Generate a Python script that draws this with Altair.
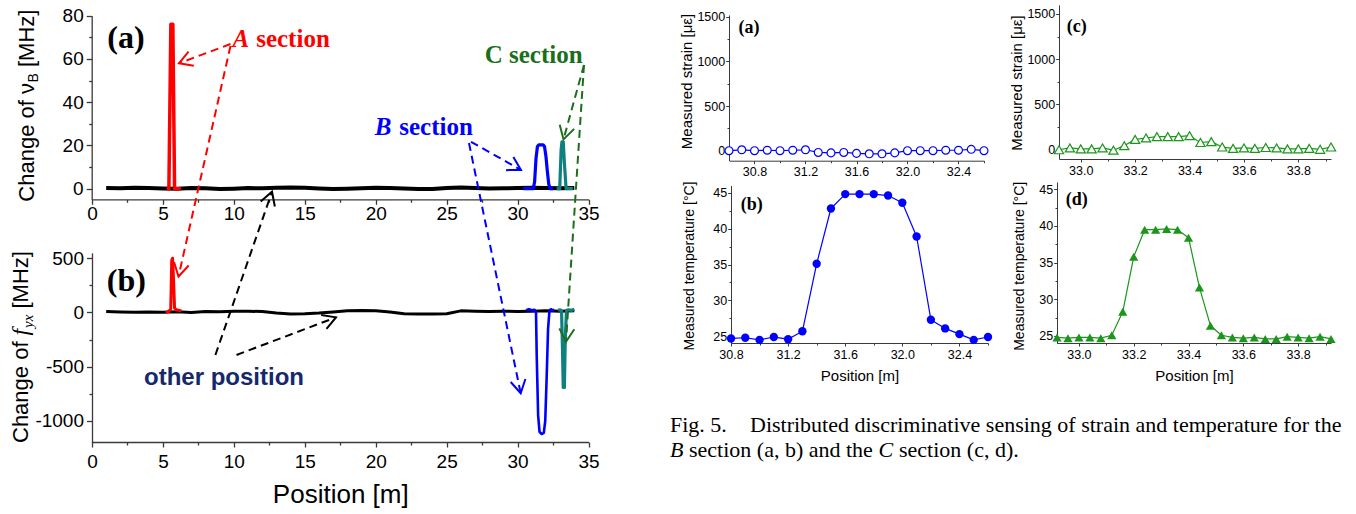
import math
import altair as alt
import pandas as pd

W, H = 1356, 514
SANS = "Liberation Sans"
SERIF = "Liberation Serif"
RED, BLUE, TEAL = "#ff0000", "#0000ff", "#0f8080"
GREEN_T, GREEN = "#1b6f1b", "#1a961a"
NAVY, BLACK, AXC = "#16286b", "#000000", "#3a3a3a"

# ---------------- left figure (a): change of nu_B [MHz] ----------------
pos_other = [1, 2, 3, 4, 5, 6, 7, 8, 9, 10, 11, 12, 13, 14, 15, 16, 17, 18, 19, 20,
             21, 22, 23, 24, 25, 26, 27, 28, 29, 30, 31, 32, 33, 34]
nuB_other = [0.3, 0.2, 0.4, 0.3, 0.1, 0.0, 0.3, 0.2, -0.2, 0.0, 0.3, 0.2, 0.4, 0.6, 0.4, 0.1, -0.1,
             0.0, 0.2, 0.4, 0.3, 0.1, -0.2, -0.1, 0.3, 0.5, 0.3, 0.1, 0.2, 0.3, 0.4, 0.3, 0.2, 0.3]
pos_A_a = [5.27, 5.42, 5.56, 5.70, 5.82, 6.26]
nuB_A = [0, 0, 76, 76, 0, 0]
pos_B_a = [30.4, 31.1, 31.2, 31.3, 31.4, 31.5, 31.8, 31.9, 32.0, 32.1, 32.2, 32.3, 32.5]
nuB_B = [0, 0, 3, 14, 19.5, 20.3, 20.3, 19.5, 15, 8, 2, 0, 0]
pos_C_a = [32.75, 32.97, 33.07, 33.13, 33.22, 33.30, 33.42, 33.9]
nuB_C = [0, 0, 18, 21.7, 21.7, 12, 0, 0]

# ---------------- left figure (b): change of f_yx [MHz] ----------------
fyx_other = [8, 5, 3, 5, 2, 6, 0, 10, 6, 12, 12, 8, -5, -15, -12, -5, 5, 15, 18, 15, 5, -12,
             -15, -15, -12, 15, 12, 10, 12, 10, 12, 15, 12, 15]
pos_A_b = [5.2, 5.4, 5.55, 5.62, 5.68, 5.75, 5.82, 5.95, 6.1, 6.3]
fyx_A = [0, 10, 30, 480, 500, 300, 40, 25, 20, 15]
pos_B_b = [30.6, 30.8, 31.0, 31.2, 31.3, 31.35, 31.45, 31.55, 31.7, 31.85, 31.95, 32.05, 32.15,
           32.25, 32.35, 32.5, 32.6]
fyx_B = [20, 30, 20, 25, 0, -400, -950, -1100, -1120, -1110, -1000, -600, -150, 20, 30, 20, 25]
pos_C_b = [32.85, 33.0, 33.1, 33.16, 33.22, 33.3, 33.36, 33.45, 33.6, 33.8, 34.0]
fyx_C = [20, 25, 15, -300, -690, -690, -250, 20, 25, 20, 30]

# ---------------- right figure ----------------
pos_Bs = [30.6, 30.7, 30.8, 30.9, 31.0, 31.1, 31.2, 31.3, 31.4, 31.5, 31.6, 31.7, 31.8, 31.9,
          32.0, 32.1, 32.2, 32.3, 32.4, 32.5, 32.6]
strain_B = [0, 10, 0, 5, 0, 5, 10, -20, -25, -20, -30, -35, -35, -25, 0, 0, 0, 5, 5, 15, 0]
pos_Bt = [30.8, 30.9, 31.0, 31.1, 31.2, 31.3, 31.4, 31.5, 31.6, 31.7, 31.8, 31.9, 32.0, 32.1,
          32.2, 32.3, 32.4, 32.5, 32.6]
temp_B = [24.7, 24.8, 24.5, 24.9, 24.6, 25.7, 35.1, 42.8, 44.8, 44.8, 44.8, 44.6, 43.6, 38.9,
          27.3, 26.1, 25.3, 24.5, 24.9]
pos_C = [32.92, 32.96, 33.0, 33.04, 33.08, 33.12, 33.16, 33.2, 33.24, 33.28, 33.32, 33.36, 33.4,
         33.44, 33.48, 33.52, 33.56, 33.6, 33.64, 33.68, 33.72, 33.76, 33.8, 33.84, 33.88, 33.92]
strain_C = [0, 20, 10, 10, 20, -5, 45, 115, 130, 145, 145, 145, 155, 80, 90, 30, 15, 20, 15, 25,
            20, 10, 10, 15, 5, 30]
temp_C = [24.8, 24.7, 24.8, 24.8, 24.7, 25.1, 28.3, 35.8, 39.5, 39.5, 39.6, 39.5, 38.4, 31.6,
          26.4, 25.1, 24.8, 24.7, 24.8, 24.6, 24.6, 24.9, 24.8, 24.7, 24.9, 24.6]

# ---------------- annotations (in panel data units) ----------------
arrow_tail_x = [9.763, 9.763, 34.682, 34.682, 26.716, 26.575, 8.699, 10.186]
arrow_tail_y = [66.9, 66.0, 57.2, 57.2, 21.7, 21.1, -76.9, -76.9]
arrow_tip_x = [6.133, 6.098, 33.237, 33.413, 30.241, 30.220, 12.689, 17.200]
arrow_tip_y = [58.0, -40.6, 22.8, -70.8, 8.65, -94.6, -1.4, -59.5]
arrow_color = [RED, RED, GREEN_T, GREEN_T, BLUE, BLUE, BLACK, BLACK]

caption_1 = ["Fig. 5.", "Distributed discriminative sensing of strain and temperature for the"]
caption_2 = ["B", "section (a, b) and the", "C", "section (c, d)."]

# ---------------- panel geometry ----------------
PANELS = {
    "La": dict(xd=[0, 35], xr=[92, 588.5], yd=[-5, 80], yr=[199.5, 15.7]),
    "Lb": dict(xd=[0, 35], xr=[92, 588.5], yd=[-1200, 550], yr=[442.7, 252.8]),
    "Ra": dict(xd=[30.6, 32.6], xr=[729, 984], yd=[-110, 1520], yr=[160.5, 14.9]),
    "Rb": dict(xd=[30.8, 32.6], xr=[731, 988], yd=[24, 46], yr=[343.5, 185.5]),
    "Rc": dict(xd=[32.92, 33.92], xr=[1059, 1331], yd=[-100, 1600], yr=[158.8, 4.9]),
    "Rd": dict(xd=[32.92, 33.92], xr=[1057, 1331], yd=[24, 46], yr=[343.3, 182]),
}


def sc(key, ch):
    p = PANELS[key]
    return alt.Scale(domain=p[ch + "d"], range=p[ch + "r"], nice=False, zero=False)


def xy(key, xaxis=None, yaxis=None):
    return dict(x=alt.X("x:Q", scale=sc(key, "x"), axis=xaxis),
                y=alt.Y("y:Q", scale=sc(key, "y"), axis=yaxis))


def lin(v, d, r):
    return r[0] + (v - d[0]) * (r[1] - r[0]) / (d[1] - d[0])


def axis(orient, at, values, fs, tick, pad, labels=True, width=1.2,
         expr="'' + datum.value", **kw):
    off = (at - H) if orient == "bottom" else -at
    a = dict(orient=orient, offset=off, values=values, grid=False, tickSize=tick,
             tickWidth=width, tickColor=AXC, domainColor=AXC, domainWidth=width,
             labelFontSize=fs, labelFont=SANS, labelColor=BLACK, labelPadding=pad,
             labelFlush=False, labelOverlap=False, title=None)
    if labels:
        a["labelExpr"] = expr
    else:
        a["labels"] = False
        a["domain"] = False
    a.update(kw)
    return alt.Axis(**a)


def line(key, xs, ys, color, width, xaxis=None, yaxis=None):
    df = pd.DataFrame({"x": xs, "y": ys})
    return alt.Chart(df).mark_line(color=color, strokeWidth=width, strokeJoin="round").encode(
        **xy(key, xaxis, yaxis))


def ghost(key, xs, ys, xaxis, yaxis):
    df = pd.DataFrame({"x": xs[:1], "y": ys[:1]})
    return alt.Chart(df).mark_point(opacity=0).encode(**xy(key, xaxis, yaxis))


def texts(key, xs, ys, ts, cs, **mk):
    df = pd.DataFrame({"x": xs, "y": ys, "t": ts, "c": cs})
    return alt.Chart(df).mark_text(**mk).encode(
        **xy(key), text="t:N", color=alt.Color("c:N", scale=None))


def fixed(t, x, y, **mk):
    return alt.Chart(pd.DataFrame({"t": [t]})).mark_text(**mk).encode(
        x=alt.value(x), y=alt.value(y), text="t:N")


layers = []

# ---- left (a) ----
layers.append(line("La", pos_other, nuB_other, BLACK, 4,
                   axis("bottom", 199.3, [0, 5, 10, 15, 20, 25, 30, 35], 19, 5, 0, width=1.3),
                   axis("left", 91.7, [0, 20, 40, 60, 80], 19, 5.5, 3, width=1.3)))
layers.append(ghost("La", pos_other, nuB_other,
                    axis("bottom", 199.3, [2.5, 7.5, 12.5, 17.5, 22.5, 27.5, 32.5], 19, 3, 0,
                         labels=False, width=1.3),
                    axis("left", 91.7, [10, 30, 50, 70], 19, 3, 3, labels=False, width=1.3)))
layers.append(line("La", pos_A_a, nuB_A, RED, 3.5))
layers.append(line("La", pos_B_a, nuB_B, BLUE, 3.2))
layers.append(line("La", pos_C_a, nuB_C, TEAL, 3.2))

# ---- left (b) ----
layers.append(line("Lb", pos_other, fyx_other, BLACK, 3,
                   axis("bottom", 442, [0, 5, 10, 15, 20, 25, 30, 35], 19, 5, 5, width=1.3,
                        title="Position [m]", titleFont=SANS, titleFontSize=26,
                        titleFontWeight="normal", titleColor=BLACK, titleY=60,
                        titleBaseline="alphabetic"),
                   axis("left", 92, [-1000, -500, 0, 500], 19, 5.5, 3, width=1.3)))
layers.append(ghost("Lb", pos_other, fyx_other,
                    axis("bottom", 442, [2.5, 7.5, 12.5, 17.5, 22.5, 27.5, 32.5], 19, 3, 0,
                         labels=False, width=1.3),
                    axis("left", 92, [-750, -250, 250], 19, 3, 3, labels=False, width=1.3)))
layers.append(line("Lb", pos_A_b, fyx_A, RED, 3))
layers.append(line("Lb", pos_B_b, fyx_B, BLUE, 2.6))
layers.append(line("Lb", pos_C_b, fyx_C, TEAL, 3.2))

# ---- right panels ----
def right_panel(key, xs, ys, color, shape, filled, size, ytitle, xvals, xminor, yvals, yminor,
                yax_at, xax_at, tX, tY, tfs, show_xtitle):
    lay = []
    xkw = {}
    if show_xtitle:
        xkw = dict(title="Position [m]", titleFont=SANS, titleFontSize=15,
                   titleFontWeight="normal", titleColor=BLACK, titleY=37.5,
                   titleBaseline="alphabetic")
    xa = axis("bottom", xax_at, xvals, 12.5, 3, 2, width=1.0,
              expr="format(datum.value, '.1f')", **xkw)
    ya = axis("left", yax_at, yvals, 12.5, 3.3, 1, width=1.0, title=ytitle, titleFont=SANS,
              titleFontSize=tfs, titleFontWeight="normal", titleColor=BLACK,
              titleX=tX, titleY=tY, titleBaseline="alphabetic", titleAlign="center",
              titleAngle=270)
    lay.append(line(key, xs, ys, color, 1.2, xa, ya))
    lay.append(ghost(key, xs, ys,
                     axis("bottom", xax_at, xminor, 12, 2, 2, labels=False, width=1.0),
                     axis("left", yax_at, yminor, 12, 2, 1, labels=False, width=1.0)))
    df = pd.DataFrame({"x": xs, "y": ys})
    if filled:
        pt = alt.Chart(df).mark_point(shape=shape, filled=True, color=color, size=size,
                                      opacity=1)
    else:
        pt = alt.Chart(df).mark_point(shape=shape, filled=True, color="white", stroke=color,
                                      strokeWidth=1.2, size=size, opacity=1)
    lay.append(pt.encode(**xy(key)))
    return lay


STRAIN_T = "Measured strain [με]"
TEMP_T = "Measured temperature [°C]"
xB = [30.8, 31.2, 31.6, 32.0, 32.4]
xC = [33.0, 33.2, 33.4, 33.6, 33.8]
layers += right_panel("Ra", pos_Bs, strain_B, BLUE, "circle", False, 62, STRAIN_T, xB,
                      [31.0, 31.4, 31.8, 32.2, 32.6], [0, 500, 1000, 1500], [250, 750, 1250],
                      729, 160.7, -37.3, 81, 15, False)
layers += right_panel("Rb", pos_Bt, temp_B, BLUE, "circle", True, 70, TEMP_T, xB,
                      [31.0, 31.4, 31.8, 32.2, 32.6], [25, 30, 35, 40, 45],
                      [27.5, 32.5, 37.5, 42.5], 731, 343, -37.7, 265.5, 14, True)
layers += right_panel("Rc", pos_C, strain_C, GREEN, "triangle-up", False, 85, STRAIN_T, xC,
                      [33.1, 33.3, 33.5, 33.7, 33.9], [0, 500, 1000, 1500], [250, 750, 1250],
                      1059, 159, -37.3, 82.5, 15, False)
layers += right_panel("Rd", pos_C, temp_C, GREEN, "triangle-up", True, 85, TEMP_T, xC,
                      [33.1, 33.3, 33.5, 33.7, 33.9], [25, 30, 35, 40, 45],
                      [27.5, 32.5, 37.5, 42.5], 1057, 343, -33.7, 265.8, 14, True)

# ---- arrows (dashed lines with open heads), in panel (a) units ----
arr = pd.DataFrame({"x": arrow_tail_x, "y": arrow_tail_y, "x2": arrow_tip_x,
                    "y2": arrow_tip_y, "c": arrow_color})
pa = PANELS["La"]
angles = []
for x0, y0, x1, y1 in zip(arrow_tail_x, arrow_tail_y, arrow_tip_x, arrow_tip_y):
    dx = lin(x1, pa["xd"], pa["xr"]) - lin(x0, pa["xd"], pa["xr"])
    dy = lin(y1, pa["yd"], pa["yr"]) - lin(y0, pa["yd"], pa["yr"])
    angles.append(math.degrees(math.atan2(dy, dx)) % 360)
layers.append(alt.Chart(arr).mark_rule(strokeDash=[8, 5], strokeWidth=2).encode(
    x=alt.X("x:Q", scale=sc("La", "x"), axis=None),
    y=alt.Y("y:Q", scale=sc("La", "y"), axis=None),
    x2="x2:Q", y2="y2:Q", color=alt.Color("c:N", scale=None)))
heads = pd.DataFrame({"x": arrow_tip_x, "y": arrow_tip_y, "a": angles, "c": arrow_color})
layers.append(alt.Chart(heads).mark_point(
    shape="M -1 -0.577 L 0 0 L -1 0.577", filled=False, size=676, strokeWidth=2,
    opacity=1).encode(**xy("La"), angle=alt.Angle("a:Q", scale=None),
                      color=alt.Color("c:N", scale=None)))

# ---- panel annotations ----
layers.append(texts("La", [2.39], [65.2], ["(a)"], [BLACK], font=SERIF, fontSize=32,
                    fontWeight="bold", align="center", baseline="alphabetic"))
layers.append(texts("Lb", [2.425], [195], ["(b)"], [BLACK], font=SERIF, fontSize=32,
                    fontWeight="bold", align="center", baseline="alphabetic"))
layers.append(texts("La", [9.904, 19.93], [65.7, 24.8], ["A", "B"], [RED, BLUE], font=SERIF,
                    fontSize=25, fontWeight="bold", fontStyle="italic", align="left",
                    baseline="alphabetic"))
layers.append(texts("La", [16.763, 26.85, 34.583], [65.7, 24.8, 58.1],
                    ["section", "section", "C section"], [RED, BLUE, GREEN_T], font=SERIF,
                    fontSize=25, fontWeight="bold", align="right", baseline="alphabetic"))
layers.append(texts("Lb", [9.305], [-668], ["other position"], [NAVY], font=SANS, fontSize=24,
                    fontWeight="bold", align="center", baseline="alphabetic"))
layers.append(texts("Ra", [30.757], [1312], ["(a)"], [BLACK], font=SERIF, fontSize=18,
                    fontWeight="bold", align="center", baseline="alphabetic"))
layers.append(texts("Rb", [30.945], [42.62], ["(b)"], [BLACK], font=SERIF, fontSize=18,
                    fontWeight="bold", align="center", baseline="alphabetic"))
layers.append(texts("Rc", [32.985], [1303], ["(c)"], [BLACK], font=SERIF, fontSize=18,
                    fontWeight="bold", align="center", baseline="alphabetic"))
layers.append(texts("Rd", [32.992], [42.85], ["(d)"], [BLACK], font=SERIF, fontSize=18,
                    fontWeight="bold", align="center", baseline="alphabetic"))

# ---- left y-axis titles (with sub-scripts) ----
rot = dict(angle=270, align="left", baseline="alphabetic", color=BLACK)
layers.append(fixed("Change of ν", 33.5, 201.7, font=SANS, fontSize=22, **rot))
layers.append(fixed("B", 38, 82.6, font=SANS, fontSize=14, **rot))
layers.append(fixed("[MHz]", 33.5, 67, font=SANS, fontSize=22, **rot))
layers.append(fixed("Change of", 28, 443, font=SANS, fontSize=22, **rot))
layers.append(fixed("f", 28, 335.5, font=SERIF, fontStyle="italic", fontSize=24, **rot))
layers.append(fixed("yx", 32.5, 328, font=SERIF, fontStyle="italic", fontSize=15, **rot))
layers.append(fixed("[MHz]", 28, 308.5, font=SANS, fontSize=22, **rot))

# ---- caption ----
cap = dict(font=SERIF, fontSize=22, align="left", baseline="alphabetic", color=BLACK)
layers.append(fixed(caption_1[0], 670, 431.7, **cap))
layers.append(fixed(caption_1[1], 750, 431.7, **cap))
layers.append(fixed(caption_2[0], 670, 456.7, fontStyle="italic", **cap))
layers.append(fixed(caption_2[1], 689, 456.7, **cap))
layers.append(fixed(caption_2[2], 878.5, 456.7, fontStyle="italic", **cap))
layers.append(fixed(caption_2[3], 899, 456.7, **cap))

chart = alt.layer(*layers).resolve_scale(x="independent", y="independent").properties(
    width=W, height=H, padding=0, autosize=alt.AutoSizeParams(type="none"),
    background="white").configure_view(strokeOpacity=0)

chart.save("out.html", embed_options={"renderer": "svg", "actions": False})
